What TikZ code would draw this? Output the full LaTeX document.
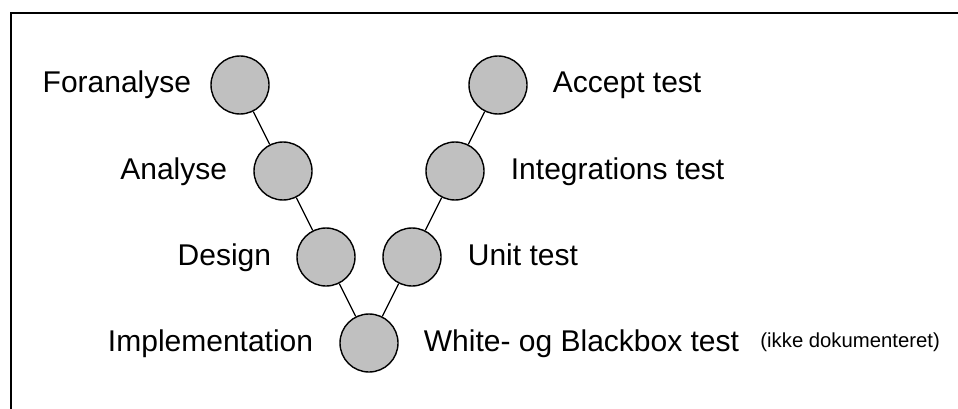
\documentclass[tikz,border=0pt]{standalone}
\usepackage{fontspec}
\setmainfont{Liberation Sans}
\usetikzlibrary{positioning}
\definecolor{phasegray}{RGB}{192,192,192}

\begin{document}
\begin{tikzpicture}[
  x=1pt, y=-1pt,
  phase/.style={circle, draw=black, line width=1.4pt, fill=phasegray,
    minimum size=58pt, inner sep=0pt},
  lbl/.style={font=\fontsize{30}{34}\selectfont, inner sep=0pt,
    text height=21.5pt, text depth=5.5pt},
  note/.style={font=\fontsize{20.3}{24}\selectfont, inner sep=0pt},
  link/.style={line width=1.3pt}
]
\useasboundingbox (0,0) rectangle (958,409);
% frame
\draw[line width=2pt] (11,409) -- (11,13) -- (958,13);

% left leg of the V
\node[phase] (fora) at (240,85) {};
\node[phase] (anal) at (283,171) {};
\node[phase] (desg) at (326,257) {};
\node[phase] (impl) at (369,343) {};

% right leg of the V
\node[phase] (unit) at (412,257) {};
\node[phase] (intg) at (455,171) {};
\node[phase] (acpt) at (498,85) {};

% labels
\node[lbl, left=19pt of fora] (foral) {Foranalyse};
\node[lbl, left=26pt of anal] (anall) {Analyse};
\node[lbl, left=25pt of desg] (desgl) {Design};
\node[lbl, left=26pt of impl] (impll) {Implementation};
\node[lbl, right=25pt of acpt] (acptl) {Accept test};
\node[lbl, right=26pt of intg] (intgl) {Integrations test};
\node[lbl, right=26pt of unit] (unitl) {Unit test};
\node[lbl, right=25pt of impl] (testl) {White- og Blackbox test};
\node[note, right=21pt of testl.base east, anchor=base west, yshift=4pt] (notel) {(ikke dokumenteret)};

\draw[link] (fora) -- (anal);
\draw[link] (anal) -- (desg);
\draw[link] (desg) -- (impl);
\draw[link] (impl) -- (unit);
\draw[link] (unit) -- (intg);
\draw[link] (intg) -- (acpt);
\end{tikzpicture}
\end{document}
